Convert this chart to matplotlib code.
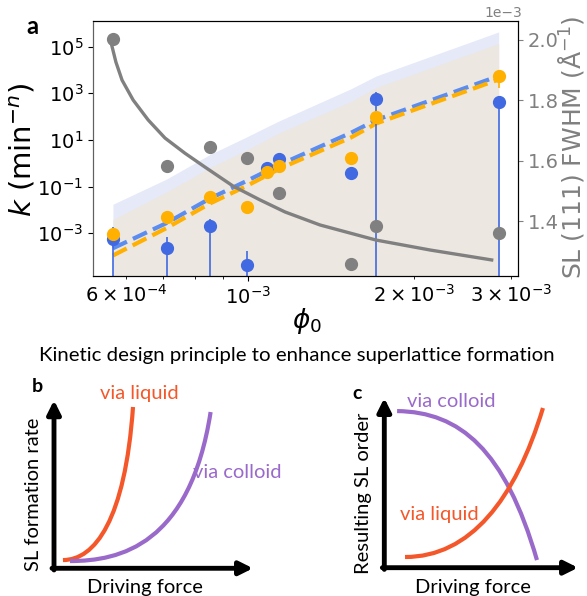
import matplotlib.pyplot as plt
from matplotlib.path import Path
from matplotlib.patches import PathPatch

# ---- panel a data ----
phi = [5.68e-4, 7.11e-4, 8.52e-4, 0.993e-3, 1.080e-3, 1.137e-3, 1.536e-3, 1.707e-3, 2.847e-3]

k_blue = [5.5e-4, 2.3e-4, 2.0e-3, 4.4e-5, 0.62, 1.48, 0.37, 575, 437]
k_blue_low = [1e-9, 1e-9, 1e-9, 1e-9, 0.62, 1.48, 0.37, 1e-9, 1e-9]
k_blue_high = [1.9e-3, 7.2e-4, 4.0e-3, 1.74e-4, 0.62, 1.48, 0.37, 1175, 437]

k_orange = [9.1e-4, 4.9e-3, 0.037, 0.0138, 0.417, 0.776, 1.66, 93, 5500]
k_orange_low = [9.1e-4, 4.9e-3, 0.037, 0.0138, 0.417, 0.776, 1.66, 93, 1660]

fit_blue = [2.29e-4, 2.77e-3, 0.0311, 0.175, 0.470, 0.849, 20.4, 72.1, 5546]
fit_orange = [1.12e-4, 1.69e-3, 0.0190, 0.107, 0.301, 0.573, 12.8, 51.1, 3926]
band_blue_hi = [0.0176, 0.213, 2.39, 13.5, 36.1, 65.3, 1567, 5546, 4.27e5]
band_orange_hi = [3.92e-3, 0.0592, 0.664, 3.73, 10.5, 20.0, 448, 1782, 1.37e5]
band_floor = [1e-9] * 9

phi_gray = [5.68e-4, 7.11e-4, 8.52e-4, 0.993e-3, 1.137e-3, 1.536e-3, 1.707e-3, 2.847e-3]
fwhm = [2.003e-3, 1.583e-3, 1.646e-3, 1.608e-3, 1.492e-3, 1.258e-3, 1.385e-3, 1.359e-3]

phi_gray_fit = [5.65e-4, 5.75e-4, 5.90e-4, 6.18e-4, 6.58e-4, 7.06e-4, 7.67e-4, 8.34e-4,
                9.38e-4, 1.050e-3, 1.166e-3, 1.349e-3, 1.705e-3, 2.137e-3, 2.765e-3]
fwhm_fit = [1.983e-3, 1.927e-3, 1.867e-3, 1.801e-3, 1.735e-3, 1.675e-3, 1.625e-3, 1.579e-3,
            1.516e-3, 1.470e-3, 1.430e-3, 1.387e-3, 1.337e-3, 1.304e-3, 1.271e-3]

# ---- panels b, c: schematic curves as cubic Bezier control points (axes fraction) ----
b_liquid = [(0.045, 0.049), (0.206, 0.049), (0.357, 0.288), (0.397, 0.960)]
b_colloid = [(0.080, 0.043), (0.332, 0.043), (0.683, 0.139), (0.787, 0.930)]
c_colloid = [(0.066, 0.923), (0.391, 0.918), (0.623, 0.694), (0.788, 0.045)]
c_liquid = [(0.107, 0.063), (0.442, 0.063), (0.675, 0.399), (0.819, 0.941)]

BLUE = '#4169e1'
ORANGE = '#ffb000'
GRAY = '#808080'
RED = '#f4572a'
PURPLE = '#9a6acb'

fig = plt.figure(figsize=(5.87, 5.96), dpi=100)

ax = fig.add_axes([0.1584, 0.5369, 0.7240, 0.4279])
ax.set_xscale('log')
ax.set_yscale('log')
ax.fill_between(phi, band_floor, band_blue_hi, color='#e5e9f8', lw=0)
ax.fill_between(phi, band_floor, band_orange_hi, color='#ece7e1', lw=0)
ax.plot(phi, fit_blue, '--', color='#5b8cf0', lw=3)
ax.plot(phi, fit_orange, '--', color=ORANGE, lw=3)
blue_err = [[a - b for a, b in zip(k_blue, k_blue_low)],
            [b - a for a, b in zip(k_blue, k_blue_high)]]
ax.errorbar(phi, k_blue, yerr=blue_err, fmt='o', color=BLUE, ms=8.5, elinewidth=1.2)
orange_err = [[a - b for a, b in zip(k_orange, k_orange_low)], [0] * 9]
ax.errorbar(phi, k_orange, yerr=orange_err, fmt='o', color=ORANGE, ms=8.5, elinewidth=1.2)
ax.set_xlim(5.225e-4, 3.086e-3)
ax.set_ylim(10 ** -4.83, 10 ** 6.1)
ax.set_yticks([1e-3, 1e-1, 1e1, 1e3, 1e5])
ax.yaxis.set_minor_locator(plt.NullLocator())
ax.tick_params(which='both', labelsize=14)

ax2 = ax.twinx()
ax2.plot(phi_gray_fit, fwhm_fit, color=GRAY, lw=2.4)
ax2.plot(phi_gray, fwhm, 'o', color=GRAY, ms=8.5)
ax2.set_ylim(1.2178e-3, 2.063e-3)
ax2.set_yticks([1.4e-3, 1.6e-3, 1.8e-3, 2.0e-3])
ax2.ticklabel_format(axis='y', style='sci', scilimits=(-2, 2))
ax2.tick_params(axis='y', colors=GRAY, labelsize=14)
off = ax2.yaxis.get_offset_text()
off.set_color(GRAY)
off.set_fontsize(10)
off.set_x(0.922)
off.set_horizontalalignment('left')
for a in (ax, ax2):
    a.spines['left'].set_color('#606060')

fig.text(22.5 / 587, 1 - 150 / 596, r'$k$ (min$^{-n}$)', rotation=90, ha='center', va='center', fontsize=21)
fig.text(586 / 587, 1 - 147.5 / 596, 'SL (111) FWHM (Å$^{-1}$)', rotation=90,
         ha='right', va='center', fontsize=18, color=GRAY)
fig.text(306.7 / 587, 1 - 321 / 596, r'$\phi_0$', ha='center', va='center', fontsize=19)
fig.text(32 / 587, 1 - 26 / 596, 'a', ha='center', va='center', fontsize=17, fontweight='bold', family='Lato')

fig.text(297 / 587, 1 - 355 / 596, 'Kinetic design principle to enhance superlattice formation',
         ha='center', va='center', fontsize=14.7, family='Lato')


def schematic(rect, curves, texts, ylabel, letter, letter_pos):
    s = fig.add_axes(rect)
    s.set_xlim(0, 1)
    s.set_ylim(0, 1)
    s.axis('off')
    arrow = dict(arrowstyle='-|>', lw=3.5, color='black', mutation_scale=20, shrinkA=0, shrinkB=0)
    s.annotate('', xy=(1, 0), xytext=(-0.01, 0), arrowprops=arrow, annotation_clip=False)
    s.annotate('', xy=(0, 1), xytext=(0, -0.01), arrowprops=arrow, annotation_clip=False)
    for pts, col in curves:
        path = Path(pts, [Path.MOVETO, Path.CURVE4, Path.CURVE4, Path.CURVE4])
        s.add_patch(PathPatch(path, facecolor='none', edgecolor=col, lw=3, capstyle='butt'))
    for x, y, t, col in texts:
        s.text(x, y, t, color=col, fontsize=14.5, family='Lato', ha='left', va='center')
    s.text(-0.105, 0.44, ylabel, rotation=90, ha='center', va='center', fontsize=14.5, family='Lato')
    s.text(0.457, -0.117, 'Driving force', ha='center', va='center', fontsize=14.5, family='Lato')
    s.text(letter_pos[0], letter_pos[1], letter, ha='left', va='center', fontsize=14,
           fontweight='bold', family='Lato')


schematic([0.0920, 0.0465, 0.339, 0.2819],
          [(b_liquid, RED), (b_colloid, PURPLE)],
          [(0.231, 1.043, 'via liquid', RED), (0.698, 0.573, 'via colloid', PURPLE)],
          'SL formation rate', 'b', (-0.111, 1.08))
schematic([0.6547, 0.0475, 0.330, 0.2847],
          [(c_colloid, PURPLE), (c_liquid, RED)],
          [(0.117, 0.982, 'via colloid', PURPLE), (0.081, 0.316, 'via liquid', RED)],
          'Resulting SL order', 'c', (-0.167, 1.024))

fig.savefig('out.png', dpi=100)
